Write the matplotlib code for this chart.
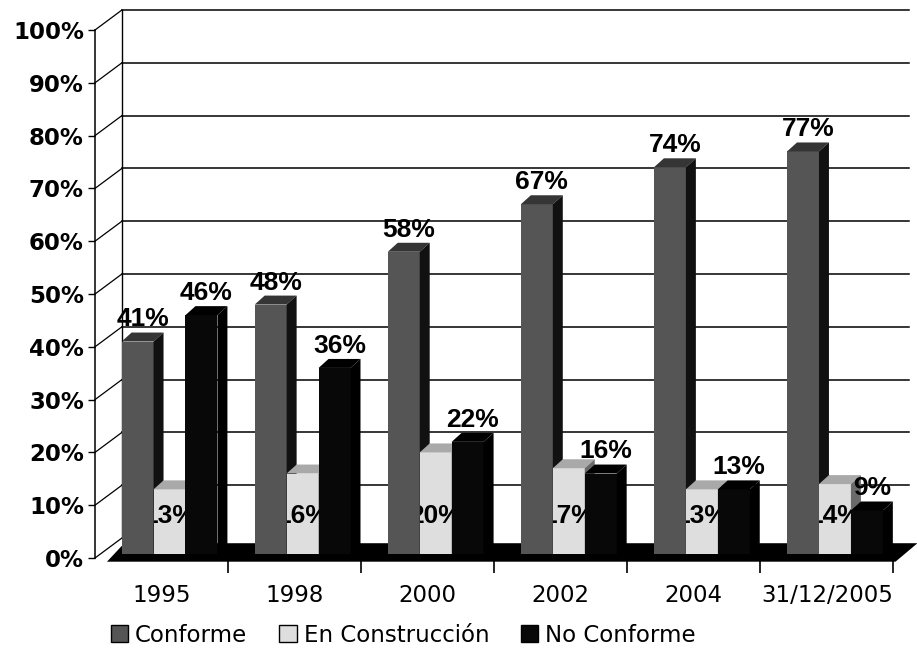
import matplotlib
matplotlib.use('Agg')
import matplotlib.pyplot as plt
from matplotlib.patches import Polygon, Patch
from matplotlib.transforms import Bbox, TransformedBbox

# datos (porcentajes)
categories = ['1995', '1998', '2000', '2002', '2004', '31/12/2005']
conforme = [41, 48, 58, 67, 74, 77]
en_construccion = [13, 16, 20, 17, 13, 14]
no_conforme = [46, 36, 22, 16, 13, 9]
series_names = ['Conforme', 'En Construcción', 'No Conforme']
y_ticks = list(range(0, 101, 10))

# estilo de cada serie: frente, tapa, lateral
styles = [
    ('#555555', '#353535', '#111111'),
    ('#dedede', '#a9a9a9', '#6a6a6a'),
    ('#080808', '#000000', '#000000'),
]

BAR_W = 0.24
OFFSETS = [-0.18, 0.06, 0.30]
DDX, DDY = 0.075, 1.7      # profundidad de cada barra
WDX, WDY = 0.203, 3.8      # profundidad de la pared del fondo
BASE = 0.8

fig = plt.figure(figsize=(9.17, 6.51), dpi=100)
ax = fig.add_axes([95 / 917, 93 / 651, 798.5 / 917, 528 / 651])
ax.set_xlim(-0.5, 5.5)
ax.set_ylim(0, 100)

# pared del fondo y lineas de division
x_back0 = -0.5 + WDX
x_back1 = 5.5 + 0.12
for v in y_ticks:
    ax.plot([-0.5, x_back0], [v, v + WDY], color='black', lw=0.9, clip_on=False, zorder=1)
    if v > 0:
        ax.plot([x_back0, x_back1], [v + WDY, v + WDY], color='black', lw=1.1, clip_on=False, zorder=1)
ax.plot([x_back0, x_back0], [WDY, 100 + WDY], color='black', lw=1.0, clip_on=False, zorder=1)

# piso
floor = Polygon([(-0.41, -0.7), (5.515, -0.7), (5.68, 2.8), (-0.28, 2.8)],
                closed=True, fc='black', ec='none', clip_on=False, zorder=2)
ax.add_patch(floor)

xs = list(range(len(categories)))
all_values = [conforme, en_construccion, no_conforme]
for s, (values, off, (front, top, side)) in enumerate(zip(all_values, OFFSETS, styles)):
    z = 3 + s
    x_left = [x + off - BAR_W / 2 for x in xs]
    bars = ax.bar([x + off for x in xs], [v - BASE for v in values], width=BAR_W,
                  bottom=BASE, color=front, edgecolor='none', zorder=z)
    for x0, v in zip(x_left, values):
        x1 = x0 + BAR_W
        ax.add_patch(Polygon([(x0, v), (x1, v), (x1 + DDX, v + DDY), (x0 + DDX, v + DDY)],
                             closed=True, fc=top, ec='none', zorder=z))
        ax.add_patch(Polygon([(x1, BASE), (x1 + DDX, BASE + DDY), (x1 + DDX, v + DDY), (x1, v)],
                             closed=True, fc=side, ec='none', zorder=z))
        xc = x0 + BAR_W / 2
        if s == 1:
            # la etiqueta queda tapada por las barras vecinas
            t = ax.text(xc, 8, f'{v}%', ha='center', va='center', fontsize=19,
                        fontweight='bold', family='Liberation Sans', zorder=z + 0.5)
            t.set_clip_path(None)
            t.set_clip_box(TransformedBbox(Bbox([[x0, BASE], [x1, v]]), ax.transData))
            t.set_clip_on(True)
        else:
            ax.text(xc + DDX / 2, v + DDY + 0.2, f'{v}%', ha='center', va='bottom',
                    fontsize=19, fontweight='bold', family='Liberation Sans', zorder=8)

# ejes
for sp in ['top', 'right', 'bottom']:
    ax.spines[sp].set_visible(False)
ax.spines['left'].set_linewidth(1.1)
ax.set_yticks(y_ticks)
ax.set_yticklabels([f'{v}%' for v in y_ticks], fontsize=16.5, fontweight='bold')
ax.tick_params(axis='y', direction='out', length=5, width=1, pad=3)
ax.set_xticks(xs)
ax.set_xticklabels(categories, fontsize=16.5)
ax.set_xticks([x + 0.5 for x in xs], minor=True)
ax.tick_params(axis='x', which='major', length=0, pad=19)
ax.tick_params(axis='x', which='minor', length=11, width=1.2)

handles = [Patch(facecolor=styles[i][0], edgecolor='black', lw=1) for i in range(3)]
fig.legend(handles, series_names, loc='lower center', bbox_to_anchor=(0.44, -0.025), ncol=3,
           frameon=False, fontsize=16.5, handlelength=0.75, handleheight=0.75,
           handletextpad=0.3, columnspacing=1.4)

fig.savefig('out.png', dpi=100)
